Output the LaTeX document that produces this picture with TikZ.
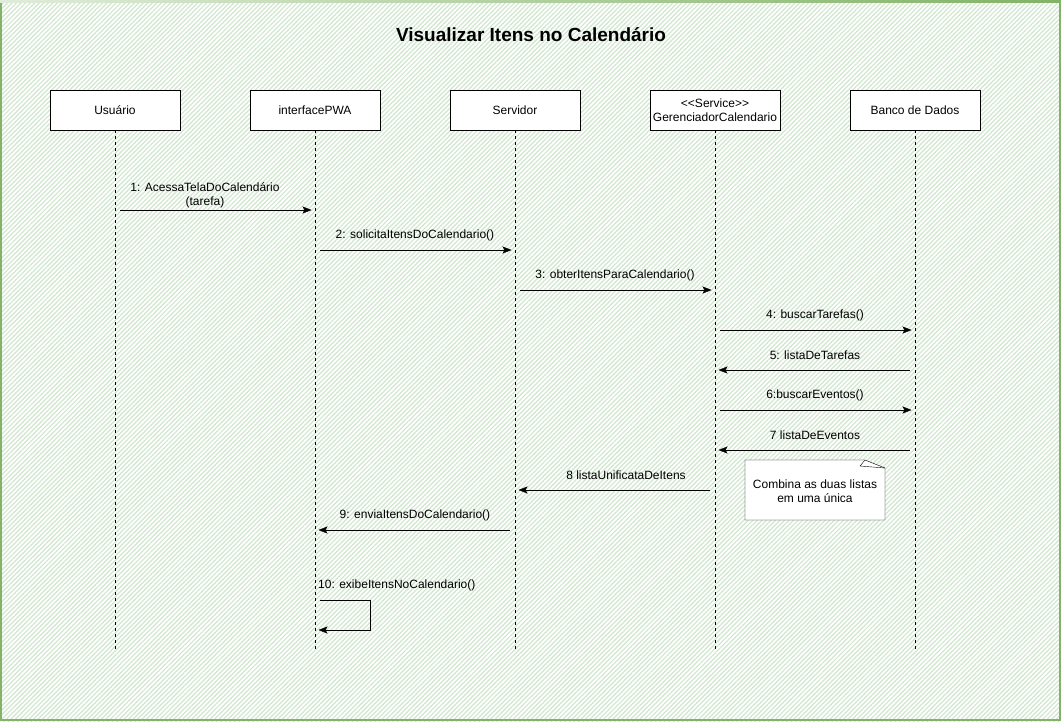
\documentclass[tikz,border=0pt]{standalone}
\usepackage{fontspec}
\setmainfont{Liberation Sans}
\definecolor{bggreen}{RGB}{208, 230, 206}
\definecolor{framegreen}{RGB}{130, 179, 102}
\usetikzlibrary{arrows.meta, positioning, patterns.meta, calc}

\begin{document}
\begin{tikzpicture}[x=1pt, y=-1pt,
  head/.style={draw, fill=white, minimum width=130pt, minimum height=40pt,
    inner sep=0pt, align=center, font=\fontsize{12}{14}\selectfont},
  life/.style={dash pattern=on 3pt off 3pt},
  msg/.style={-{Stealth[length=9pt, width=7pt, inset=2pt]}, shorten <=5pt, shorten >=3.5pt},
  lbl/.style={inner sep=0pt, align=center, font=\fontsize{12}{14}\selectfont}]
  % Background
  \useasboundingbox (0,0) rectangle (1061,721);
  \fill[white] (0,0) rectangle (1061,721);
  \fill[pattern={Lines[angle=45, distance=3.2pt, line width=1.2pt]}, pattern color=bggreen]
    (0,0) rectangle (1061,721);
  \draw[framegreen, line width=2pt] (1,2) -- (1,720) -- (1060,720) -- (1060,2);
  \shade[left color=framegreen!25, right color=framegreen] (0,0) rectangle (1061,2);
  % Title
  \node[font=\fontsize{19}{22}\selectfont\bfseries] (title) at (531,35)
    {Visualizar Itens no Calendário};
  % Lifelines
  \foreach \name/\x/\txt in {usr/115/Usuário, pwa/315/interfacePWA, srv/515/Servidor,
      ger/715/{<\kern0pt<Service>\kern0pt>\\GerenciadorCalendario}, bd/915/Banco de Dados} {
    \node[head] (\name) at (\x,110) {\txt};
    \coordinate (\name-end) at (\x,650);
    \draw[life] (\name.south) -- (\name-end);
  }
  % Messages
  \foreach \n/\from/\to/\y/\dx/\txt in {
      1/usr/pwa/210/-10/{1: AcessaTelaDoCalendário\\(tarefa)},
      2/pwa/srv/250/0/2: solicitaItensDoCalendario(),
      3/srv/ger/290/0/3: obterItensParaCalendario(),
      4/ger/bd/330/0/4: buscarTarefas(),
      5/bd/ger/370/0/5: listaDeTarefas,
      6/ger/bd/410/0/6:buscarEventos(),
      7/bd/ger/450/0/7 listaDeEventos,
      8/ger/srv/490/11/8 listaUnificataDeItens,
      9/srv/pwa/530/0/9: enviaItensDoCalendario()} {
    \coordinate (m\n) at (0,\y);
    \draw[msg] (\from |- m\n) -- (\to |- m\n)
      node[midway, lbl, yshift=15pt, xshift=\dx pt] (l\n) {\txt};
  }
  % Self message
  \coordinate (s1) at (370,600);
  \coordinate (s2) at (370,630);
  \draw[msg] (pwa |- s1) -- (s1) -- (s2) -- (pwa |- s2);
  \node[lbl, anchor=west] (l10) at ($(pwa |- s1)+(3,-15)$) {10: exibeItensNoCalendario()};
  % Note
  \draw[fill=white] (745,460) -- (865,460) -- (885,468) -- (885,520) -- (745,520) -- cycle;
  \draw (865,460) -- (860,466) -- (885,468);
  \node[lbl] (note) at (815,491) {Combina as duas listas\\em uma única};
\end{tikzpicture}
\end{document}
